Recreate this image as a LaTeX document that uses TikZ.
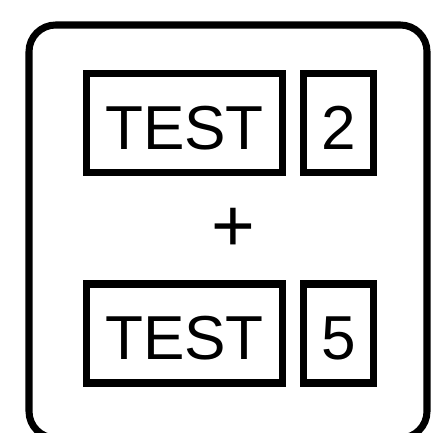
\documentclass[tikz,border=0pt]{standalone}
\usepackage{fontspec}
\setsansfont{Liberation Sans}
\usepackage{tikz}
\usetikzlibrary{positioning}
\tikzset{
  every path/.style={line width=6pt},
  bx/.style={draw,rectangle,inner sep=0pt,minimum height=2.97cm,
             text height=45pt,text depth=0pt,
             font=\sffamily\fontsize{53}{53}\selectfont,
             path picture={\fill ([xshift=-3.4pt]path picture bounding box.north east)
               rectangle (path picture bounding box.south east);}},
  wd/.style={bx,minimum width=5.88cm},
  nb/.style={bx,minimum width=2.1cm},
  pl/.style={inner sep=0pt,font=\sffamily\fontsize{64}{64}\selectfont},
  frame/.style={draw,line width=6pt,rounded corners=0.8cm}
}
\begin{document}
\begin{tikzpicture}[x=0.03cm,y=-0.03cm]
  \useasboundingbox (0,0) rectangle (431,433);
  % ---- outer frame ----
  \draw[frame] (29,25) rectangle (427,438);
  % ---- first row ----
  \node[wd] (t1) at (184.5,123) {TEST};
  \node[nb] (n1) at (338.5,123) {2};
  % ---- plus ----
  \node[pl] (p) at (233,230) {+};
  % ---- second row ----
  \node[wd] (t2) at (184.5,333.5) {TEST};
  \node[nb] (n2) at (338.5,333.5) {5};
\end{tikzpicture}
\end{document}
